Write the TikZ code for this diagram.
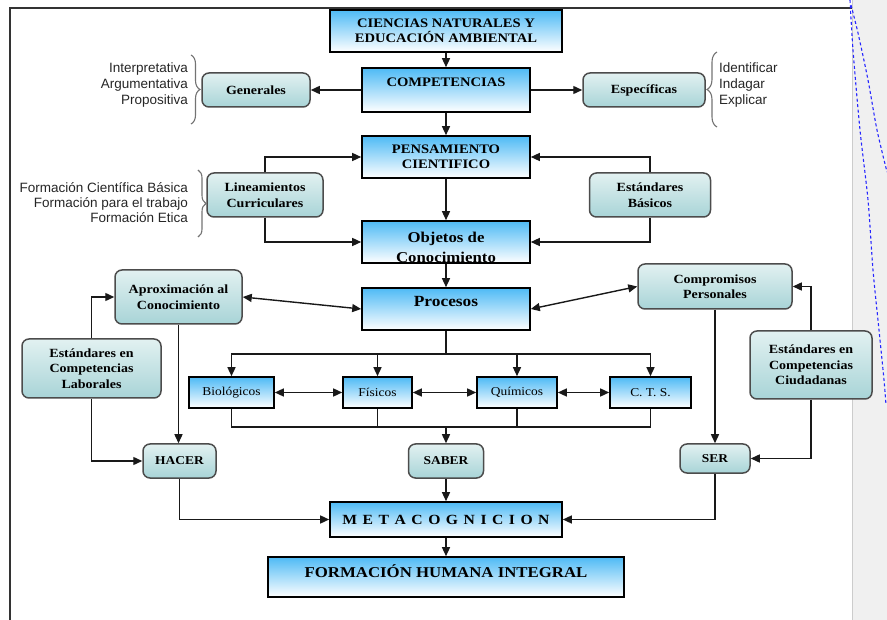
\documentclass[tikz,border=0pt]{standalone}
\usepackage{fontspec}
\setmainfont{Liberation Serif}[FakeStretch=1.12]
\setsansfont{Liberation Sans}
\usetikzlibrary{arrows.meta,decorations.pathreplacing}
\definecolor{celeste}{RGB}{78,186,245}
\definecolor{aguatop}{RGB}{226,241,241}
\definecolor{aguabot}{RGB}{168,212,215}
\definecolor{panel}{RGB}{240,240,240}

\begin{document}
\begin{tikzpicture}[x=1pt,y=-1pt,
  azul/.style={draw=black,line width=1.6pt,top color=celeste,bottom color=white,inner sep=0pt,align=center},
  agua/.style={draw=black!70,line width=1.5pt,rounded corners=7pt,top color=aguatop,bottom color=aguabot,inner sep=0pt,align=center,font=\bfseries\fontsize{12.5}{15.5}\selectfont},
  titulo/.style={font=\bfseries\fontsize{13}{15.5}\selectfont},
  rama/.style={font=\fontsize{12}{14}\selectfont,minimum height=31pt},
  lista/.style={font=\sffamily\fontsize{13.5}{16}\selectfont,text=black!85,inner sep=0pt},
  linea/.style={line width=1.4pt,draw=black!90},
  flecha/.style={linea,-{Triangle[length=9pt,width=8pt]}},
  doble/.style={linea,{Triangle[length=9pt,width=8pt]}-{Triangle[length=9pt,width=8pt]}},
  llave/.style={decorate,decoration={brace,amplitude=#1},line width=1.1pt,draw=black!55},
  punteado/.style={blue!85,line width=1.1pt,dash pattern=on 3pt off 2.5pt}]
\useasboundingbox (0,0) rectangle (887,620);
\fill[panel] (852,0) rectangle (887,620);
\draw[black!20] (852,0) -- (852,620);
\draw[black!80,line width=1.3pt] (10,620) -- (10,8) -- (852,8);
\draw[punteado] plot[smooth] coordinates {(850,0) (853,50) (860,130) (868,200) (873,270) (879,330) (884,380) (886,405)};
\draw[punteado] plot[smooth] coordinates {(851,5) (858,33) (868,80) (877,130) (887,172)};

\node[azul,titulo,minimum width=232pt,minimum height=42pt] (cien) at (446,31) {CIENCIAS NATURALES Y\\EDUCACIÓN AMBIENTAL};
\node[azul,titulo,minimum width=168pt,minimum height=44pt,text height=10pt,text depth=16pt] (comp) at (446,90) {COMPETENCIAS};
\node[agua,minimum width=108pt,minimum height=34pt] (gen) at (256,90) {Generales};
\node[agua,minimum width=122pt,minimum height=34pt] (esp) at (644,90) {Específicas};
\node[azul,titulo,minimum width=168pt,minimum height=42pt] (pens) at (446,157) {PENSAMIENTO\\CIENTIFICO};
\node[agua,minimum width=116pt,minimum height=44pt] (lin) at (265,195) {Lineamientos\\Curriculares};
\node[agua,minimum width=121pt,minimum height=44pt] (estb) at (650,195) {Estándares\\Básicos};
\node[azul,minimum width=168pt,minimum height=42pt,path picture={
  \node[font=\bfseries\fontsize{15}{20}\selectfont,align=center,anchor=north,inner sep=0pt]
    at ([yshift=16.5pt]path picture bounding box.center) {Objetos de\\Conocimiento};}] (obj) at (446,242) {};
\node[azul,minimum width=168pt,minimum height=42pt,font=\bfseries\fontsize{15.5}{18}\selectfont,text height=11pt,text depth=15pt] (proc) at (446,309) {Procesos};
\node[agua,minimum width=127pt,minimum height=54pt] (apx) at (178.5,297) {Aproximación al\\Conocimiento};
\node[agua,minimum width=154pt,minimum height=45pt] (comr) at (715,286.5) {Compromisos\\Personales};
\node[agua,minimum width=139pt,minimum height=59pt] (lab) at (91.5,368.5) {Estándares en\\Competencias\\Laborales};
\node[agua,minimum width=122pt,minimum height=68pt] (ciu) at (811,365) {Estándares en\\Competencias\\Ciudadanas};
\node[azul,rama,minimum width=85pt] (bio) at (231.5,392.5) {Biológicos};
\node[azul,rama,minimum width=69pt] (fis) at (377.5,392.5) {Físicos};
\node[azul,rama,minimum width=80pt] (qui) at (517,392.5) {Químicos};
\node[azul,rama,minimum width=81pt] (cts) at (650.5,392.5) {C. T. S.};
\node[agua,minimum width=73pt,minimum height=34pt,font=\bfseries\fontsize{12}{14}\selectfont] (hacer) at (179.5,461) {HACER};
\node[agua,minimum width=75pt,minimum height=34pt,font=\bfseries\fontsize{12}{14}\selectfont] (saber) at (446,461) {SABER};
\node[agua,minimum width=70pt,minimum height=29pt,font=\bfseries\fontsize{12}{14}\selectfont] (ser) at (715,458.5) {SER};
\node[azul,minimum width=232pt,minimum height=35pt,font={\bfseries\fontsize{14}{16}\selectfont\spaceskip 5.5pt\relax}] (meta) at (446,519.5) {M E T A C O G N I C I O N};
\node[azul,minimum width=356pt,minimum height=40pt,font=\bfseries\fontsize{15}{18}\selectfont,text height=10pt,text depth=10pt] (form) at (446,577) {FORMACIÓN HUMANA INTEGRAL};

\node[lista,align=right,anchor=east] (tipgen) at (188,85) {Interpretativa\\Argumentativa\\Propositiva};
\node[lista,align=left,anchor=west] (tipesp) at (719,85) {Identificar\\Indagar\\Explicar};
\node[lista,align=right,anchor=east,font=\sffamily\fontsize{13.5}{15}\selectfont] (tiplin) at (188,203) {Formación Científica Básica\\Formación para el trabajo\\Formación Etica};
\draw[llave=9pt] (191,55) -- (191,124);
\draw[llave=8pt] (198,170) -- (198,237);
\draw[llave=10pt] (717,127) -- (717,52);

\draw[flecha] (cien) -- (comp);
\draw[flecha] (comp) -- (gen);
\draw[flecha] (comp) -- (esp);
\draw[flecha] (comp) -- (pens);
\draw[flecha] (pens) -- (obj);
\draw[flecha] (lin.north) |- (pens.west);
\draw[flecha] (lin.south) |- (obj.west);
\draw[flecha] (estb.north) |- (pens.east);
\draw[flecha] (estb.south) |- (obj.east);
\draw[flecha] (obj) -- (proc);
\draw[doble] (apx.east) -- (proc.west);
\draw[doble] (comr.west) -- (proc.east);
\draw[flecha] (lab.north) |- (apx.west);
\draw[flecha] (lab.south) |- (hacer.west);
\draw[flecha] (ciu.north) |- (comr.east);
\draw[flecha] (ciu.south) |- (ser.east);
\draw[flecha] (apx.south) -- (apx.south |- hacer.north);
\draw[flecha] (comr.south) -- (ser.north);
\coordinate (bus1) at (446,354);
\coordinate (bus2) at (446,427);
\draw[linea] (proc.south) -- (bus1);
\foreach \r in {bio,fis,qui,cts} \draw[flecha] (bus1) -| (\r.north);
\foreach \r in {bio,fis,qui,cts} \draw[linea] (\r.south) |- (bus2);
\draw[flecha] (bus2) -- (saber);
\draw[doble] (bio) -- (fis);
\draw[doble] (fis) -- (qui);
\draw[doble] (qui) -- (cts);
\draw[flecha] (hacer.south) |- (meta.west);
\draw[flecha] (ser.south) |- (meta.east);
\draw[flecha] (saber) -- (meta);
\draw[flecha] (meta) -- (form);
\end{tikzpicture}
\end{document}
